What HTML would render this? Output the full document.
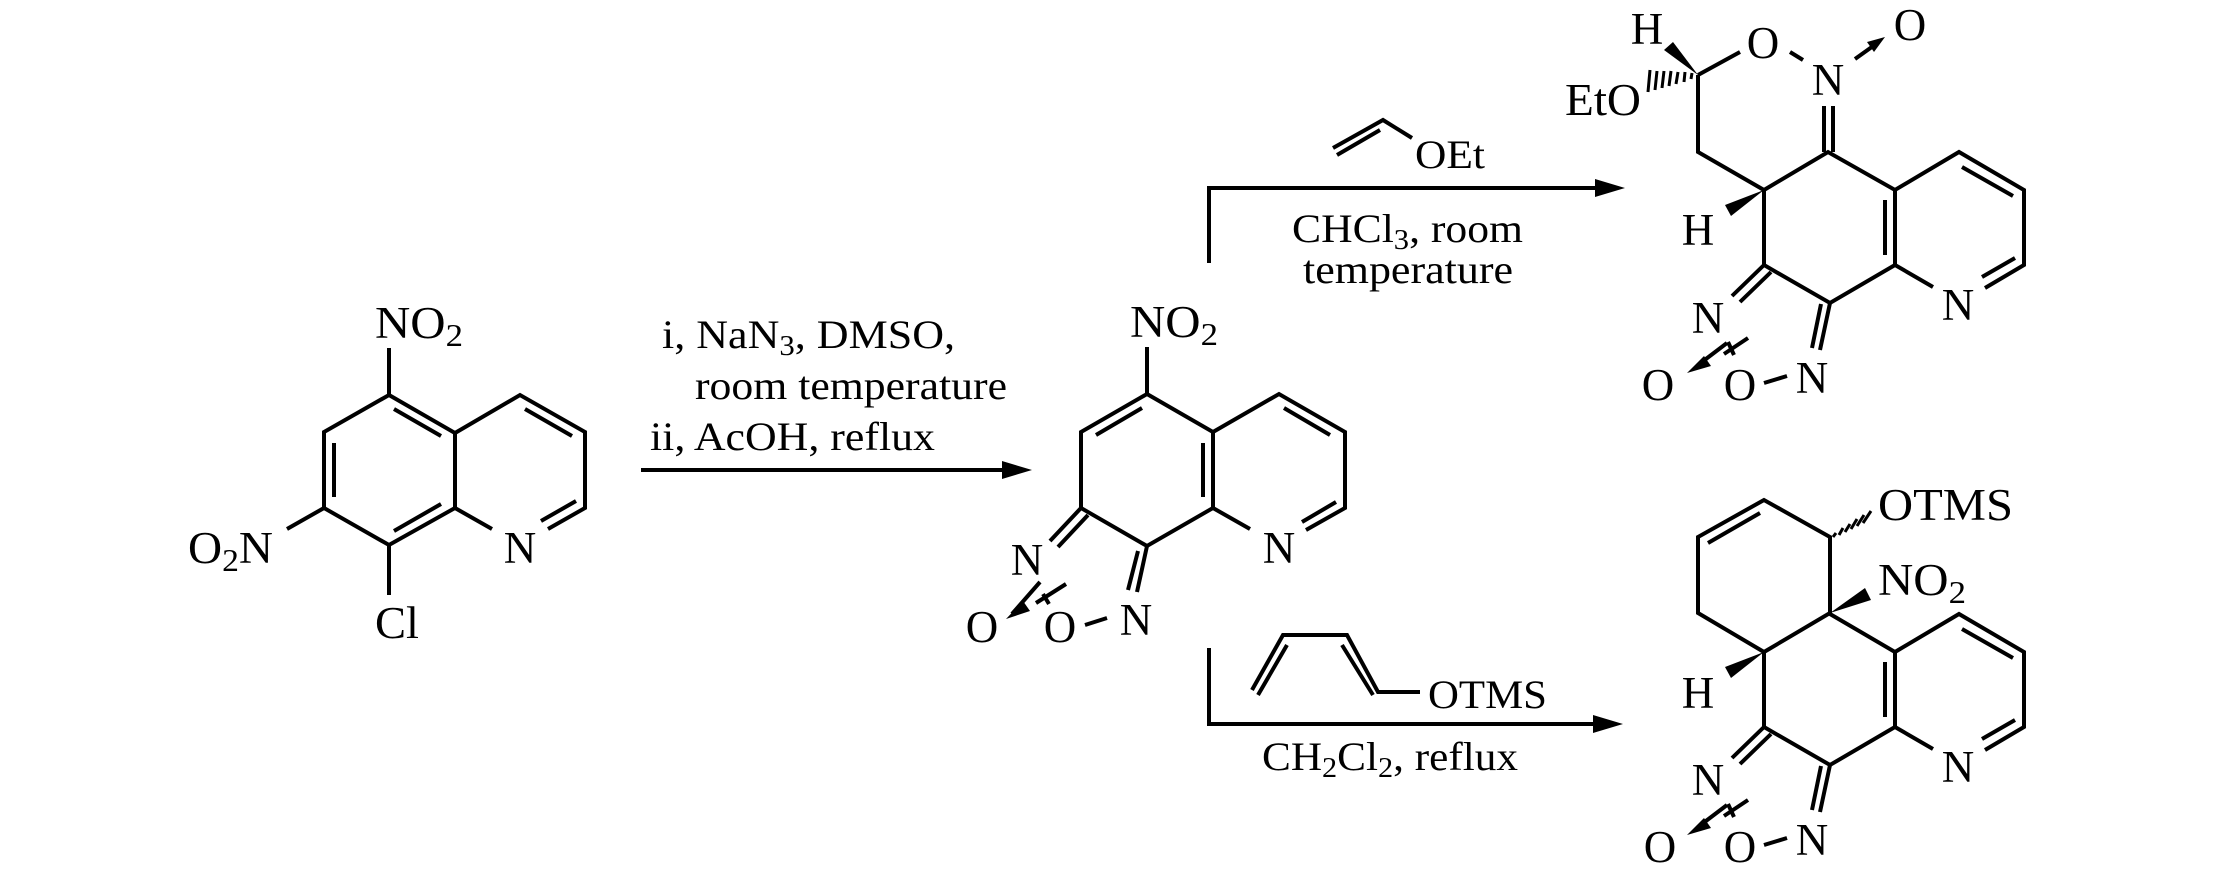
<!DOCTYPE html>
<html><head><meta charset="utf-8"><style>
html,body{margin:0;padding:0;background:#fff;}
svg{display:block;}
text{font-family:"Liberation Serif",serif;fill:#000;}
.a{font-size:45px;}
.c{font-size:40px;}
</style></head><body>
<svg width="2213" height="886" viewBox="0 0 2213 886" xmlns="http://www.w3.org/2000/svg">
<g stroke="#000" stroke-width="4" fill="none" stroke-linecap="butt">
<!-- Molecule 1 -->
<path d="M389,395 L455,433 L455,508 L389,545 L324,508 L324,432 Z"/>
<path d="M455,433 L520,395 L585,432 L585,508 L548,529 M455,508 L492,529"/>
<path d="M394,409 L441,436 M334,443 L334,497 M394,531 L441,504 M525,409 L572,436 M576,501 L541,521"/>
<path d="M389,395 L389,348 M324,508 L287,529 M389,545 L389,595"/>
<!-- Arrow 1 -->
<path d="M641,470 L1005,470"/>
<!-- Middle molecule -->
<path d="M1147,394 L1213,432 L1213,508 L1147,546 L1081,508 L1081,432 Z"/>
<path d="M1213,432 L1279,394 L1345,432 L1345,508 L1306,530 M1213,508 L1250,529"/>
<path d="M1142,408 L1096,435 M1203,443 L1203,497 M1284,408 L1330,435 M1336,502 L1302,522"/>
<path d="M1147,394 L1147,347"/>
<path d="M1081,508 L1050,541 M1088,515 L1058,547"/>
<path d="M1147,546 L1137,592 M1138,551 L1128,590"/>
<path d="M1085,625 L1107,618"/>
<path d="M1040,582 L1012,614 M1066,584 L1036,603 M1043,594 L1049,604"/>
<!-- Product 1 -->
<path d="M1698,75 L1740,52 M1790,52 L1803,60 M1698,75 L1698,152 L1764,190 L1828,152 L1895,190 L1959,152 L2024,190 L2024,265 L1985,288 M1895,190 L1895,265 L1933,287 M1895,265 L1830,303 L1764,265 L1764,190"/>
<path d="M1824,106 L1824,152 M1833,106 L1833,152"/>
<path d="M1885,200 L1885,255 M1962,167 L2013,196 M2015,258 L1982,277"/>
<path d="M1764,265 L1732,296 M1771,272 L1740,302"/>
<path d="M1830,303 L1820,350 M1821,304 L1812,348"/>
<path d="M1764,383 L1787,376"/>
<path d="M1855,59 L1876,44"/>
<path d="M1727,343 L1698,365 M1748,338 L1724,354 M1728,342 L1734,355"/>
<!-- Arrow top -->
<path d="M1209,263 L1209,188 L1598,188"/>
<path d="M1333,148 L1383,120 L1412,138 M1337,155 L1380,130"/>
<!-- Product 2 -->
<path d="M1764,500 L1698,537 L1698,613 L1764,652 L1830,613 L1830,537 Z"/>
<path d="M1708,543 L1760,513"/>
<path d="M1764,652 L1764,727 L1830,765 L1895,727 L1895,652 L1830,614 M1895,652 L1959,614 L2024,652 L2024,727 L1985,750 M1895,727 L1933,749"/>
<path d="M1885,662 L1885,717 M1962,629 L2013,658 M2015,720 L1982,739"/>
<path d="M1764,727 L1732,758 M1771,734 L1740,764"/>
<path d="M1830,765 L1820,812 M1821,766 L1812,810"/>
<path d="M1764,845 L1787,838"/>
<path d="M1727,805 L1698,827 M1748,800 L1724,816 M1728,804 L1734,817"/>
<!-- Arrow bottom -->
<path d="M1209,648 L1209,724 L1596,724"/>
<path d="M1252,690 L1283,635 L1347,635 L1378,692 L1420,692 M1258,695 L1287,645 M1342,645 L1373,695"/>
</g>
<g fill="#000" stroke="none">
<polygon points="1032,470 1002,461 1002,479"/>
<polygon points="1625,188 1595,179 1595,197"/>
<polygon points="1623,724 1593,715 1593,733"/>
<!-- small arrowheads -->
<polygon points="1006,619 1023,601 1030,611"/>
<polygon points="1885,37 1867,42 1874,52"/>
<polygon points="1687,373 1704,356 1711,366"/>
<polygon points="1687,835 1704,818 1711,828"/>
<!-- wedges -->
<polygon points="1698,75 1664,50 1673,42"/>
<polygon points="1764,190 1725,205 1731,216"/>
<polygon points="1764,652 1725,667 1731,678"/>
<polygon points="1830,613 1865,588 1871,600"/>
</g>
<!-- hashed bonds -->
<g stroke="#000" stroke-width="3">
<path d="M1692,73 L1691,79 M1685,72 L1684,82 M1678,72 L1676,84 M1671,71 L1669,86 M1664,71 L1662,88 M1657,71 L1655,90 M1650,70 L1648,92"/>
<path d="M1836,533 L1833,537 M1843,528 L1839,535 M1850,524 L1845,532 M1857,519 L1851,529 M1864,515 L1857,526 M1871,511 L1863,523"/>
</g>
<!-- Text -->
<text class="a" x="375" y="338" textLength="88" lengthAdjust="spacingAndGlyphs">NO<tspan font-size="32" dy="8">2</tspan></text>
<text class="a" x="188" y="563" textLength="85" lengthAdjust="spacingAndGlyphs">O<tspan font-size="32" dy="8">2</tspan><tspan dy="-8">N</tspan></text>
<text class="a" x="375" y="638" textLength="44" lengthAdjust="spacingAndGlyphs">Cl</text>
<text class="a" x="520" y="563" text-anchor="middle">N</text>

<text class="c" x="662" y="348" textLength="293" lengthAdjust="spacingAndGlyphs">i, NaN<tspan font-size="28" dy="7">3</tspan><tspan dy="-7">, DMSO,</tspan></text>
<text class="c" x="695" y="399" textLength="312" lengthAdjust="spacingAndGlyphs">room temperature</text>
<text class="c" x="650" y="450" textLength="285" lengthAdjust="spacingAndGlyphs">ii, AcOH, reflux</text>

<text class="a" x="1130" y="337" textLength="88" lengthAdjust="spacingAndGlyphs">NO<tspan font-size="32" dy="8">2</tspan></text>
<text class="a" x="1279" y="563" text-anchor="middle">N</text>
<text class="a" x="1027" y="575" text-anchor="middle">N</text>
<text class="a" x="1136" y="635" text-anchor="middle">N</text>
<text class="a" x="1060" y="642" text-anchor="middle">O</text>
<text class="a" x="982" y="642" text-anchor="middle">O</text>

<text class="c" x="1415" y="168" textLength="70" lengthAdjust="spacingAndGlyphs">OEt</text>
<text class="c" x="1292" y="242" textLength="231" lengthAdjust="spacingAndGlyphs">CHCl<tspan font-size="28" dy="7">3</tspan><tspan dy="-7">, room</tspan></text>
<text class="c" x="1303" y="283" textLength="210" lengthAdjust="spacingAndGlyphs">temperature</text>

<text class="a" x="1647" y="44" text-anchor="middle">H</text>
<text class="a" x="1763" y="58" text-anchor="middle">O</text>
<text class="a" x="1828" y="95" text-anchor="middle">N</text>
<text class="a" x="1910" y="40" text-anchor="middle">O</text>
<text class="a" x="1565" y="115" textLength="76" lengthAdjust="spacingAndGlyphs">EtO</text>
<text class="a" x="1698" y="245" text-anchor="middle">H</text>
<text class="a" x="1958" y="320" text-anchor="middle">N</text>
<text class="a" x="1708" y="333" text-anchor="middle">N</text>
<text class="a" x="1812" y="393" text-anchor="middle">N</text>
<text class="a" x="1740" y="400" text-anchor="middle">O</text>
<text class="a" x="1658" y="400" text-anchor="middle">O</text>

<text class="c" x="1428" y="708" textLength="119" lengthAdjust="spacingAndGlyphs">OTMS</text>
<text class="c" x="1262" y="770" textLength="256" lengthAdjust="spacingAndGlyphs">CH<tspan font-size="28" dy="7">2</tspan><tspan dy="-7">Cl</tspan><tspan font-size="28" dy="7">2</tspan><tspan dy="-7">, reflux</tspan></text>

<text class="a" x="1878" y="520" textLength="135" lengthAdjust="spacingAndGlyphs">OTMS</text>
<text class="a" x="1878" y="595" textLength="88" lengthAdjust="spacingAndGlyphs">NO<tspan font-size="32" dy="8">2</tspan></text>
<text class="a" x="1698" y="708" text-anchor="middle">H</text>
<text class="a" x="1958" y="782" text-anchor="middle">N</text>
<text class="a" x="1708" y="795" text-anchor="middle">N</text>
<text class="a" x="1812" y="855" text-anchor="middle">N</text>
<text class="a" x="1740" y="862" text-anchor="middle">O</text>
<text class="a" x="1660" y="862" text-anchor="middle">O</text>
</svg>
</body></html>
